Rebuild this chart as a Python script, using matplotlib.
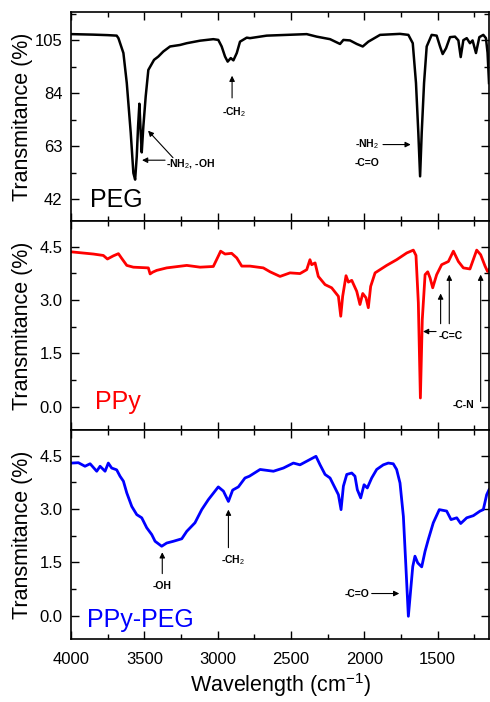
"""FTIR spectra of PEG, PPy and PPy-PEG, three stacked panels."""

import matplotlib
matplotlib.use("Agg")
import matplotlib.pyplot as plt
from matplotlib.ticker import MultipleLocator, FormatStrFormatter

plt.rcParams['font.family'] = ['Liberation Sans', 'DejaVu Sans']
plt.rcParams['mathtext.fontset'] = 'custom'
plt.rcParams['mathtext.rm'] = 'Liberation Sans'
plt.rcParams['mathtext.bf'] = 'Liberation Sans:bold'

# =============================================================================
# Data (wavenumber in cm-1, transmittance)
peg_wn = [4000, 3995, 3850, 3750, 3689, 3677, 3643, 3620, 3593, 3575,
          3563, 3552, 3543, 3534, 3525, 3518, 3507, 3491, 3473, 3434,
          3405, 3371, 3325, 3257, 3211, 3120, 3030, 2996, 2973, 2950,
          2932, 2911, 2893, 2870, 2848, 2802, 2780, 2666, 2393, 2325,
          2234, 2166, 2143, 2098, 2052, 2011, 1973, 1893, 1757, 1700,
          1670, 1648, 1632, 1620, 1609, 1593, 1575, 1541, 1507, 1484,
          1466, 1443, 1416, 1382, 1359, 1343, 1325, 1302, 1280, 1262,
          1239, 1216, 1189, 1171, 1160, 1150]
peg_t = [107.4, 107.4, 107.2, 107.0, 106.8, 105.8, 99.9, 88.0, 68.2, 52.3,
         49.7, 58.9, 70.8, 79.8, 68.2, 60.5, 70.8, 82.7, 93.2, 97.2,
         98.5, 100.5, 102.5, 103.1, 103.8, 104.8, 105.4, 105.1, 102.5, 98.5,
         96.5, 97.9, 97.0, 99.9, 104.4, 106.0, 105.8, 106.8, 107.4, 106.4,
         105.4, 103.5, 105.1, 104.9, 103.5, 102.5, 104.4, 107.1, 107.5, 107.1,
         103.8, 88.0, 68.2, 51.0, 68.2, 88.0, 102.5, 107.1, 106.8, 102.5,
         99.5, 101.8, 106.2, 106.4, 104.9, 98.3, 105.0, 105.8, 103.8, 104.9,
         99.9, 106.2, 107.1, 105.8, 100.0, 88.0]

ppy_wn = [4000, 3995, 3848, 3780, 3752, 3711, 3677, 3655, 3620, 3575,
          3473, 3461, 3443, 3416, 3348, 3211, 3120, 3030, 2996, 2980,
          2950, 2905, 2870, 2836, 2780, 2689, 2643, 2575, 2507, 2439,
          2393, 2371, 2359, 2336, 2314, 2268, 2223, 2177, 2161, 2148,
          2125, 2109, 2086, 2052, 2030, 2011, 1989, 1973, 1957, 1927,
          1848, 1780, 1711, 1666, 1648, 1632, 1618, 1605, 1586, 1568,
          1552, 1534, 1507, 1473, 1427, 1393, 1359, 1325, 1280, 1234,
          1207, 1177, 1160, 1150]
ppy_t = [4.35, 4.35, 4.29, 4.25, 4.15, 4.24, 4.30, 4.17, 3.97, 3.92,
         3.90, 3.73, 3.78, 3.83, 3.90, 3.97, 3.92, 3.94, 4.23, 4.37,
         4.29, 4.31, 4.18, 3.95, 3.95, 3.90, 3.79, 3.66, 3.76, 3.74,
         3.85, 4.13, 3.99, 4.04, 3.66, 3.43, 3.34, 3.10, 2.54, 3.10,
         3.68, 3.50, 3.55, 3.24, 2.87, 3.18, 3.06, 2.78, 3.38, 3.76,
         3.97, 4.13, 4.32, 4.40, 4.25, 2.92, 0.24, 2.45, 3.71, 3.79,
         3.62, 3.34, 3.71, 3.99, 4.08, 4.37, 4.08, 3.90, 3.87, 4.40,
         4.27, 3.95, 3.80, 3.85]

mix_wn = [4000, 3995, 3950, 3905, 3870, 3825, 3802, 3768, 3746, 3723,
          3689, 3666, 3643, 3620, 3586, 3552, 3518, 3484, 3450, 3427,
          3382, 3348, 3302, 3245, 3211, 3155, 3109, 3064, 2996, 2961,
          2927, 2898, 2859, 2814, 2784, 2711, 2620, 2552, 2484, 2439,
          2371, 2330, 2302, 2268, 2234, 2200, 2177, 2159, 2143, 2120,
          2086, 2064, 2048, 2025, 2002, 1980, 1950, 1916, 1871, 1837,
          1803, 1780, 1757, 1734, 1718, 1700, 1684, 1670, 1655, 1636,
          1609, 1586, 1564, 1530, 1489, 1439, 1409, 1370, 1343, 1302,
          1257, 1211, 1189, 1166, 1150]
mix_t = [4.29, 4.29, 4.30, 4.20, 4.27, 4.06, 4.20, 4.06, 4.29, 4.15,
         4.10, 3.92, 3.78, 3.45, 3.07, 2.84, 2.75, 2.47, 2.28, 2.09,
         1.95, 2.04, 2.09, 2.16, 2.37, 2.61, 2.98, 3.26, 3.62, 3.50,
         3.21, 3.53, 3.62, 3.87, 3.92, 4.11, 4.06, 4.15, 4.29, 4.24,
         4.39, 4.48, 4.24, 3.97, 3.87, 3.59, 3.40, 2.98, 3.64, 3.97,
         4.01, 3.92, 3.54, 3.31, 3.68, 3.59, 3.87, 4.11, 4.24, 4.29,
         4.27, 4.11, 3.73, 2.79, 1.48, -0.02, 0.73, 1.38, 1.67, 1.48,
         1.37, 1.81, 2.14, 2.61, 2.98, 2.94, 2.70, 2.75, 2.59, 2.75,
         2.81, 2.94, 2.98, 3.40, 3.54]

names = ["PEG", "PPy", "PPy-PEG"]
colors = ["black", "#ff0000", "#0000ff"]
widths = [1.8, 2.0, 2.0]
name_pos = [(0.045, 0.065), (0.057, 0.099), (0.039, 0.059)]

# =============================================================================
fig, axes = plt.subplots(3, 1, sharex=True, figsize=(4.9, 7.02), dpi=100)
fig.subplots_adjust(left=0.145, right=0.998, top=0.983, bottom=0.0897, hspace=0)

series = [(peg_wn, peg_t), (ppy_wn, ppy_t), (mix_wn, mix_t)]
for ax, (wn, t), name, c, lw, pos in zip(axes, series, names, colors, widths, name_pos):
    ax.plot(wn, t, color=c, lw=lw)
    ax.text(pos[0], pos[1], name, color=c, fontsize=18, transform=ax.transAxes)
    ax.set_ylabel("Transmitance (%)", fontsize=15.5)
    ax.yaxis.set_label_coords(-0.09, 0.5)
    ax.tick_params(which="both", direction="in", top=True, right=True,
                   labelsize=12, width=1.0)
    ax.tick_params(axis="y", pad=6)
    ax.tick_params(axis="x", pad=9)
    ax.tick_params(which="major", length=6)
    ax.tick_params(which="minor", length=3.5)
    for s in ax.spines.values():
        s.set_linewidth(1.2)

axes[0].set_ylim(33.3, 116.2)
axes[0].yaxis.set_major_locator(MultipleLocator(21))
axes[0].yaxis.set_minor_locator(MultipleLocator(10.5))
for ax in axes[1:]:
    ax.set_ylim(-0.66, 5.22)
    ax.yaxis.set_major_locator(MultipleLocator(1.5))
    ax.yaxis.set_minor_locator(MultipleLocator(0.75))
    ax.yaxis.set_major_formatter(FormatStrFormatter("%.1f"))

axes[2].set_xlim(4000, 1150)
axes[2].xaxis.set_major_locator(MultipleLocator(500))
axes[2].xaxis.set_minor_locator(MultipleLocator(250))
axes[2].set_xlabel("Wavelength (cm$^{-1}$)", fontsize=15.5, labelpad=3)

# -----------------------------------------------------------------------------
# band annotations
arw = dict(arrowstyle="-|>", color="black", lw=0.8, mutation_scale=8,
           shrinkA=0, shrinkB=0)
fs = 7.5

ax = axes[0]
ax.text(3352, 56.0, "-NH$_2$, -OH", fontsize=fs, fontweight="bold", va="center")
ax.annotate("", xy=(3516, 57.4), xytext=(3359, 57.4), arrowprops=arw)
ax.annotate("", xy=(3475, 69.1), xytext=(3305, 58.4), arrowprops=arw)
ax.text(2890, 76.6, "-CH$_2$", fontsize=fs, fontweight="bold", ha="center", va="center")
ax.annotate("", xy=(2902, 90.9), xytext=(2902, 82.1), arrowprops=arw)
ax.text(2064, 63.6, "-NH$_2$", fontsize=fs, fontweight="bold", va="center")
ax.text(2064, 56.4, "-C=O", fontsize=fs, fontweight="bold", va="center")
ax.annotate("", xy=(1684, 63.6), xytext=(1873, 63.6), arrowprops=arw)

ax = axes[1]
ax.text(1491, 1.98, "-C=C", fontsize=fs, fontweight="bold", va="center")
ax.annotate("", xy=(1600, 2.11), xytext=(1511, 2.11), arrowprops=arw)
ax.annotate("", xy=(1480, 3.18), xytext=(1480, 2.33), arrowprops=arw)
ax.annotate("", xy=(1421, 3.71), xytext=(1421, 2.33), arrowprops=arw)
ax.text(1396, 0.05, "-C-N", fontsize=fs, fontweight="bold", va="center")
ax.annotate("", xy=(1207, 3.71), xytext=(1207, 0.14), arrowprops=arw)

ax = axes[2]
ax.text(3380, 0.82, "-OH", fontsize=fs, fontweight="bold", ha="center", va="center")
ax.annotate("", xy=(3378, 1.78), xytext=(3378, 1.18), arrowprops=arw)
ax.text(2895, 1.57, "-CH$_2$", fontsize=fs, fontweight="bold", ha="center", va="center")
ax.annotate("", xy=(2927, 2.98), xytext=(2927, 1.91), arrowprops=arw)
ax.text(2052, 0.62, "-C=O", fontsize=fs, fontweight="bold", ha="center", va="center")
ax.annotate("", xy=(1762, 0.62), xytext=(1950, 0.62), arrowprops=arw)

fig.savefig("out.png", dpi=100)
